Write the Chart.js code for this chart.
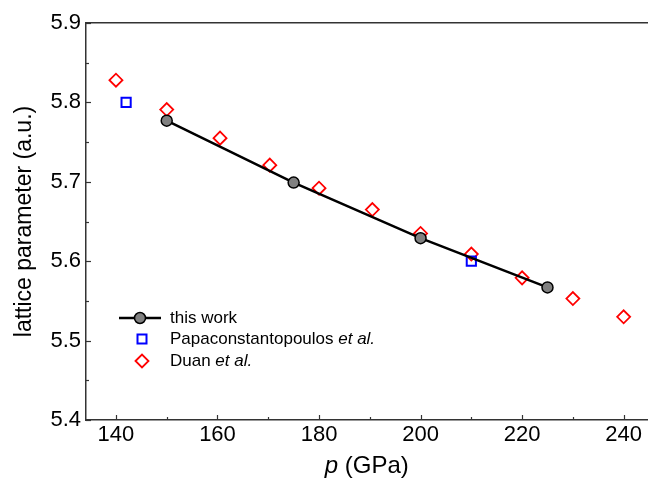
<!DOCTYPE html>
<html>
<head>
<meta charset="utf-8">
<script src="https://cdn.jsdelivr.net/npm/chart.js@4"></script>
<style>
  html, body { margin: 0; padding: 0; background: #fff; overflow: hidden; }
  #wrap { width: 648px; height: 478px; overflow: hidden; }
  canvas { display: block; }
</style>
</head>
<body>
<div id="wrap"><canvas id="latticeChart" width="656" height="478"></canvas></div>
<script>
// pressure (GPa) and lattice parameter (a.u.)
const thisWorkP = [150, 175, 200, 225];
const thisWorkA = [5.777, 5.699, 5.629, 5.567];
const papP = [142, 210];
const papA = [5.800, 5.600];
const duanP = [140, 150, 160.5, 170.3, 180, 190.5, 200, 210, 220, 230, 240];
const duanA = [5.828, 5.791, 5.755, 5.721, 5.692, 5.665, 5.635, 5.609, 5.579, 5.553, 5.530];

const FONT = "'Liberation Sans', Arial, sans-serif";
const toPts = (xs, ys) => xs.map((v, i) => ({ x: v, y: ys[i] }));

// inward ticks, x title with italic p, legend with italic et al.
const extras = {
  id: 'extras',
  afterDraw(chart) {
    const { ctx, chartArea: a, scales: { x, y } } = chart;
    ctx.save();
    ctx.strokeStyle = '#333';
    ctx.lineWidth = 1.2;
    x.ticks.forEach(t => {
      const px = Math.round(x.getPixelForValue(t.value)) + 0.5;
      const len = Math.round(t.value) % 20 === 0 ? 5 : 3;
      ctx.beginPath(); ctx.moveTo(px, a.bottom); ctx.lineTo(px, a.bottom - len); ctx.stroke();
    });
    y.ticks.forEach(t => {
      const py = Math.round(y.getPixelForValue(t.value)) + 0.5;
      const len = Math.round(t.value * 100) % 10 === 0 ? 5 : 3;
      ctx.beginPath(); ctx.moveTo(a.left, py); ctx.lineTo(a.left + len, py); ctx.stroke();
    });

    // x axis title
    ctx.fillStyle = '#000';
    ctx.textBaseline = 'middle';
    ctx.textAlign = 'left';
    const f1 = 'italic 24px ' + FONT, f2 = '24px ' + FONT;
    ctx.font = f1; const w1 = ctx.measureText('p').width;
    ctx.font = f2; const w2 = ctx.measureText(' (GPa)').width;
    let tx = (a.left + a.right) / 2 - (w1 + w2) / 2;
    ctx.font = f1; ctx.fillText('p', tx, 466);
    ctx.font = f2; ctx.fillText(' (GPa)', tx + w1, 466);

    // legend
    const lx = 140, tx0 = 170;
    ctx.strokeStyle = '#000'; ctx.lineWidth = 2.5;
    ctx.beginPath(); ctx.moveTo(119, 318); ctx.lineTo(161, 318); ctx.stroke();
    ctx.beginPath(); ctx.arc(lx, 318, 5.5, 0, Math.PI * 2);
    ctx.fillStyle = '#808080'; ctx.fill();
    ctx.lineWidth = 1.5; ctx.stroke();
    ctx.strokeStyle = '#0000ff'; ctx.lineWidth = 2;
    ctx.strokeRect(lx + 2 - 4.5, 339 - 4.5, 9, 9);
    ctx.strokeStyle = '#ff0000'; ctx.lineWidth = 1.8;
    ctx.beginPath();
    ctx.moveTo(lx + 2 - 6.5, 361); ctx.lineTo(lx + 2, 361 - 6.5);
    ctx.lineTo(lx + 2 + 6.5, 361); ctx.lineTo(lx + 2, 361 + 6.5); ctx.closePath(); ctx.stroke();

    ctx.fillStyle = '#000';
    const n = '17px ' + FONT, it = 'italic 17px ' + FONT;
    const rows = [
      [['this work', n]],
      [['Papaconstantopoulos ', n], ['et al.', it]],
      [['Duan ', n], ['et al.', it]]
    ];
    [318, 339, 361].forEach((ry, i) => {
      let cx = tx0;
      rows[i].forEach(([s, f]) => {
        ctx.font = f; ctx.fillText(s, cx, ry); cx += ctx.measureText(s).width;
      });
    });
    ctx.restore();
  }
};

new Chart(document.getElementById('latticeChart'), {
  type: 'scatter',
  data: {
    datasets: [{
      label: 'this work',
      data: toPts(thisWorkP, thisWorkA),
      showLine: true,
      borderColor: '#000',
      borderWidth: 2.5,
      pointRadius: 5.5,
      pointBackgroundColor: '#808080',
      pointBorderColor: '#000',
      pointBorderWidth: 1.5
    }, {
      label: 'Papaconstantopoulos et al.',
      data: toPts(papP, papA),
      pointStyle: 'rect',
      pointRadius: 6.5,
      pointBorderColor: '#0000ff',
      pointBackgroundColor: 'rgba(0,0,0,0)',
      pointBorderWidth: 2
    }, {
      label: 'Duan et al.',
      data: toPts(duanP, duanA),
      pointStyle: 'rectRot',
      pointRadius: 6.5,
      pointBorderColor: '#ff0000',
      pointBackgroundColor: 'rgba(0,0,0,0)',
      pointBorderWidth: 1.8
    }]
  },
  options: {
    responsive: false,
    devicePixelRatio: 1,
    animation: false,
    layout: { padding: 0 },
    plugins: { legend: { display: false }, tooltip: { enabled: false } },
    scales: {
      x: {
        type: 'linear',
        min: 134.1,
        max: 244.7,
        grid: { display: false, drawTicks: false },
        border: { display: true, color: '#333', width: 1.5 },
        ticks: {
          stepSize: 10,
          includeBounds: false,
          padding: 2,
          color: '#000',
          font: { family: FONT, size: 22 },
          maxRotation: 0,
          autoSkip: false,
          callback: v => (Math.round(v) % 20 === 0 ? String(v) : '')
        },
        afterFit: s => { s.height = 58; }
      },
      x2: {
        type: 'linear',
        position: 'top',
        min: 134.1,
        max: 244.7,
        grid: { display: false, drawTicks: false },
        border: { display: true, color: '#333', width: 1.5 },
        ticks: { display: false },
        afterFit: s => { s.height = 23; }
      },
      y: {
        min: 5.4,
        max: 5.9,
        grid: { display: false, drawTicks: false },
        border: { display: true, color: '#333', width: 1.5 },
        ticks: {
          stepSize: 0.05,
          padding: 5,
          color: '#000',
          font: { family: FONT, size: 22 },
          autoSkip: false,
          callback: v => (Math.round(v * 100) % 10 === 0 ? v.toFixed(1) : '')
        },
        title: {
          display: true,
          text: 'lattice parameter (a.u.)',
          color: '#000',
          font: { family: FONT, size: 23 },
          padding: { top: 11, bottom: 0 }
        },
        afterFit: s => { s.width = 86; }
      }
    }
  },
  plugins: [extras]
});
</script>
</body>
</html>
